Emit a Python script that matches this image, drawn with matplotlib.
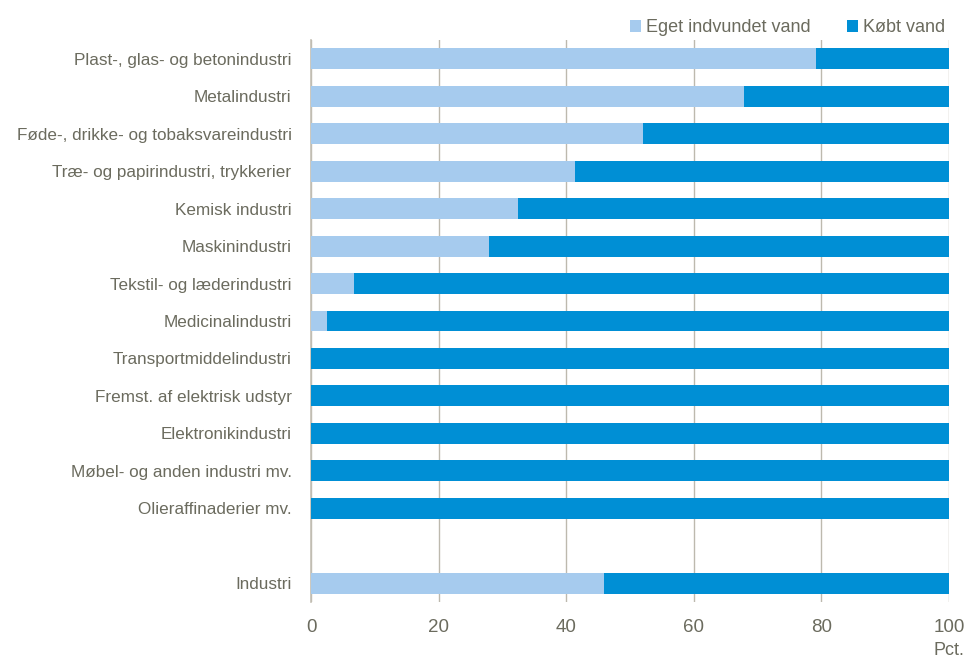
import matplotlib.pyplot as plt

# Data
categories = [
    'Plast-, glas- og betonindustri',
    'Metalindustri',
    'Føde-, drikke- og tobaksvareindustri',
    'Træ- og papirindustri, trykkerier',
    'Kemisk industri',
    'Maskinindustri',
    'Tekstil- og læderindustri',
    'Medicinalindustri',
    'Transportmiddelindustri',
    'Fremst. af elektrisk udstyr',
    'Elektronikindustri',
    'Møbel- og anden industri mv.',
    'Olieraffinaderier mv.',
    '',
    'Industri',
]
eget = [79.2, 67.9, 52.0, 41.4, 32.4, 27.9, 6.8, 2.5, 0, 0, 0, 0, 0, None, 45.9]
koebt = [20.8, 32.1, 48.0, 58.6, 67.6, 72.1, 93.2, 97.5, 100, 100, 100, 100, 100, None, 54.1]

plt.rcParams['font.family'] = ['Liberation Sans', 'DejaVu Sans']

text_col = '#6b6b5e'
light = '#a6cbee'
dark = '#008fd5'

fig = plt.figure(figsize=(9.68, 6.6), dpi=100)
ax = fig.add_axes([0.3213, 0.0879, 0.6591, 0.8515])

ypos = list(range(len(categories)))
idx = [i for i, v in enumerate(eget) if v is not None]
e_vals = [eget[i] for i in idx]
k_vals = [koebt[i] for i in idx]

ax.barh(idx, e_vals, height=0.56, color=light, label='Eget indvundet vand', zorder=3)
ax.barh(idx, k_vals, left=e_vals, height=0.56, color=dark, label='Købt vand', zorder=3)

ax.set_ylim(len(categories) - 0.5, -0.5)
ax.set_xlim(0, 100)
ax.set_yticks(ypos)
ax.set_yticklabels(categories)
ax.set_xticks([0, 20, 40, 60, 80, 100])

ax.tick_params(axis='y', length=0, pad=14, labelsize=12.3, labelcolor=text_col)
ax.tick_params(axis='x', length=0, pad=12, labelsize=13.5, labelcolor=text_col)

ax.grid(axis='x', color='#bdb9ae', linewidth=1, zorder=0)
for s in ['top', 'right', 'bottom']:
    ax.spines[s].set_visible(False)
ax.spines['left'].set_color('#c3bfb4')
ax.spines['left'].set_linewidth(1.2)

ax.text(1.0, -0.087, 'Pct.', transform=ax.transAxes, ha='center', va='center',
        fontsize=13, color=text_col)

leg = ax.legend(loc='lower right', bbox_to_anchor=(1.0, 1.0), ncol=2, frameon=False,
                fontsize=13, handlelength=0.6, handleheight=0.6, handletextpad=0.3,
                columnspacing=2.0, borderaxespad=0.0, borderpad=0.2)
for t in leg.get_texts():
    t.set_color(text_col)

fig.savefig('out.png', dpi=100)
